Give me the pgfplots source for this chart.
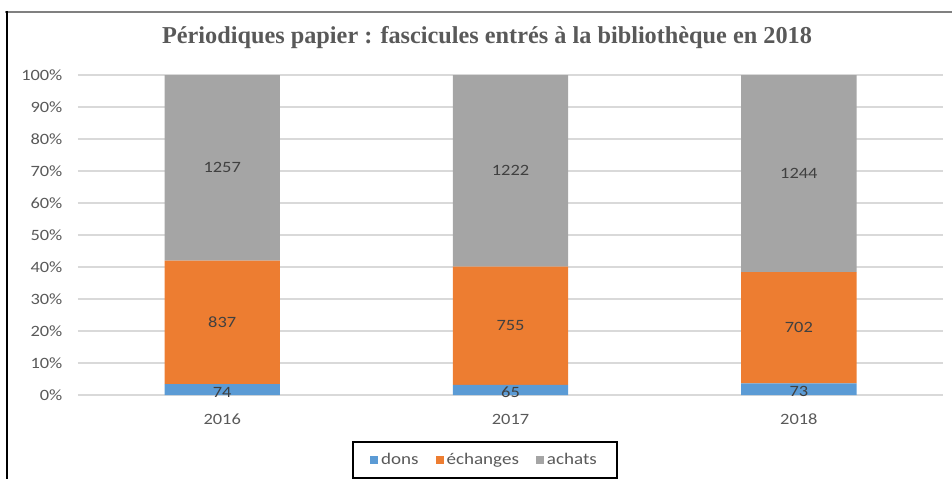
\documentclass[border=0pt]{standalone}
\usepackage{fontspec}
\setmainfont{Carlito}[FakeStretch=1.17]
\newfontfamily\titlefont{Liberation Serif}
\usepackage{pgfplots}
\usepackage{pgfplotstable}
\pgfplotsset{compat=1.18}
\definecolor{cdons}{HTML}{5B9BD5}
\definecolor{cech}{HTML}{ED7D31}
\definecolor{cach}{HTML}{A5A5A5}
\definecolor{txt}{HTML}{595959}
\definecolor{lbl}{HTML}{404040}
\definecolor{grid}{HTML}{D9D9D9}
\pgfplotstableread{
x dons echanges achats
0 74 837 1257
1 65 755 1222
2 73 702 1244
}\data
\pgfplotsset{
  common/.style={
    scale only axis,
    width=648.75pt, height=240pt,
    at={(58.5pt,63pt)}, anchor=south west,
    xmin=-0.5, xmax=2.5, ymin=0, ymax=100,
  },
  lab/.style={only marks, mark=none, draw=none,
    nodes near coords, point meta=explicit symbolic,
    every node near coord/.style={anchor=center, font=\fontsize{11.8}{14}\selectfont, text=lbl}},
}
\newcommand{\tot}{(\thisrow{dons}+\thisrow{echanges}+\thisrow{achats})}
\begin{document}
\begin{tikzpicture}
\useasboundingbox (0,0) rectangle (714pt,359.25pt);
\draw[color=gray, line width=1.5pt] (3.75pt,350.5pt) -- (714pt,350.5pt);
\draw[color=black, line width=1.1pt] (5.25pt,351pt) -- (5.25pt,0pt);
\node[font=\titlefont\bfseries\fontsize{18.2}{21}\selectfont, text=txt] at (365.25pt,331pt) {Périodiques papier : fascicules entrés à la bibliothèque en 2018};
\begin{axis}[common,
  ybar stacked, bar width=0.4,
  axis line style={draw=none},
  major tick length=0pt,
  ytick={0,10,...,100},
  yticklabel={\pgfmathprintnumber{\tick}\%},
  ymajorgrids, grid style={color=grid, line width=1.1pt},
  xtick={0,1,2}, xticklabels={2016,2017,2018},
  tick label style={font=\fontsize{11.8}{14}\selectfont, text=txt},
  yticklabel style={anchor=east, inner sep=0pt, xshift=-11.5pt},
  xticklabel style={anchor=center, inner sep=0pt, yshift=-18.5pt},
  /pgf/number format/assume math mode=true,
  legend columns=3,
  legend style={at={(0.4705,-0.203)}, anchor=center, draw=black, line width=1.1pt,
    font=\fontsize{12.2}{14}\selectfont, text=txt,
    inner xsep=13pt, inner ysep=6.5pt,
    /tikz/every even column/.append style={column sep=11pt}},
  legend image code/.code={\fill[#1, draw=none] (0pt,-3pt) rectangle (6pt,3pt);},
]
\addplot[fill=cdons, draw=none] table[x=x, y expr={100*\thisrow{dons}/\tot}] {\data};
\addplot[fill=cech, draw=none] table[x=x, y expr={100*\thisrow{echanges}/\tot}] {\data};
\addplot[fill=cach, draw=none] table[x=x, y expr={100*\thisrow{achats}/\tot}] {\data};
\legend{dons, échanges, achats}
\end{axis}
\begin{axis}[common, hide axis]
\addplot[lab] table[x=x, y expr={50*\thisrow{dons}/\tot - 0.8}, meta=dons] {\data};
\addplot[lab] table[x=x, y expr={100*(\thisrow{dons}+0.5*\thisrow{echanges})/\tot}, meta=echanges] {\data};
\addplot[lab] table[x=x, y expr={100*(\thisrow{dons}+\thisrow{echanges}+0.5*\thisrow{achats})/\tot}, meta=achats] {\data};
\end{axis}
\end{tikzpicture}
\end{document}
